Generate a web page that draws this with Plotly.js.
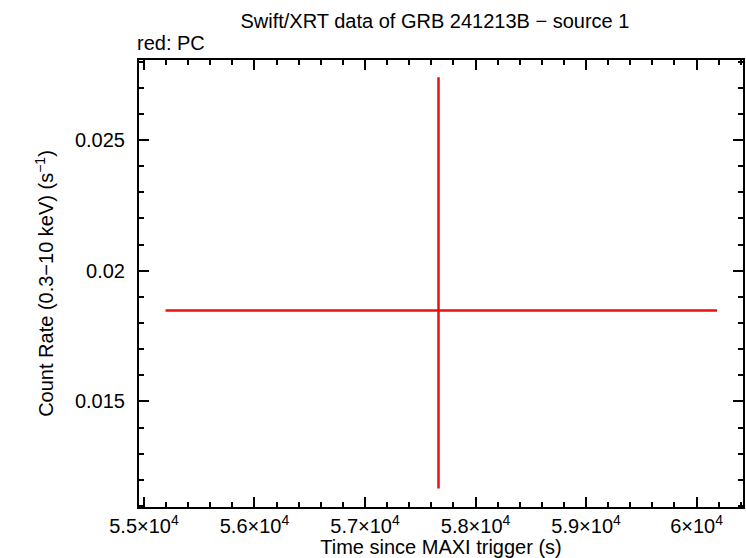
<!DOCTYPE html>
<html><head><meta charset="utf-8">
<script src="https://cdn.plot.ly/plotly-3.0.1.min.js"></script>
<style>body{margin:0;padding:0;background:#fff}#c{width:746px;height:558px}</style>
</head><body><div id="c"></div>
<script>
const timeX = [57665];
const timeErrMinus = [2470];
const timeErrPlus = [2520];
const rateY = [0.01848];
const rateErrPlus = [0.00892];
const rateErrMinus = [0.00681];
const xTickVals = [55000, 56000, 57000, 58000, 59000, 60000];
const xTickText = ['5.5×10<sup>4</sup>', '5.6×10<sup>4</sup>', '5.7×10<sup>4</sup>', '5.8×10<sup>4</sup>', '5.9×10<sup>4</sup>', '6×10<sup>4</sup>'];
const yTickVals = [0.015, 0.02, 0.025];
const yTickText = ['0.015', '0.02', '0.025'];

const fam = 'Liberation Sans, Arial, sans-serif';
const font = {family: fam, color: '#000', size: 20};

const trace = {
  x: timeX, y: rateY, type: 'scatter', mode: 'markers',
  marker: {size: 0.1, color: 'rgba(0,0,0,0)'},
  error_x: {type: 'data', symmetric: false, array: timeErrPlus, arrayminus: timeErrMinus, color: '#e8100e', thickness: 2.5, width: 0},
  error_y: {type: 'data', symmetric: false, array: rateErrPlus, arrayminus: rateErrMinus, color: '#e8100e', thickness: 2.5, width: 0},
  hoverinfo: 'skip'
};

const layout = {
  width: 746, height: 558,
  margin: {l: 139, r: 3, t: 60, b: 51, pad: 0},
  paper_bgcolor: '#fff', plot_bgcolor: '#fff',
  showlegend: false,
  font: font,
  title: {text: 'Swift/XRT data of GRB 241213B − source 1', font: {family: fam, size: 20, color: '#000'}, x: 0.583, xanchor: 'center', y: 0.963, yanchor: 'middle'},
  annotations: [{text: 'red: PC', xref: 'paper', yref: 'paper', x: 0, y: 1, xanchor: 'left', yanchor: 'bottom', yshift: 4, xshift: -4, showarrow: false, font: {family: fam, size: 20, color: '#000'}}],
  xaxis: {
    range: [54955, 60420], tickmode: 'array', tickvals: xTickVals, ticktext: xTickText,
    ticks: 'inside', ticklen: 10, tickwidth: 2, tickcolor: '#000',
    showline: true, linewidth: 2, linecolor: '#000', mirror: 'allticks',
    showgrid: false, zeroline: false,
    tickfont: {family: fam, size: 20, color: '#000'},
    minor: {dtick: 200, tick0: 55000, ticks: 'inside', ticklen: 5, tickwidth: 2, tickcolor: '#000', showgrid: false},
    title: {text: 'Time since MAXI trigger (s)', font: {family: fam, size: 20, color: '#000'}, standoff: 1}
  },
  yaxis: {
    range: [0.01096, 0.02806], tickmode: 'array', tickvals: yTickVals, ticktext: yTickText,
    ticks: 'inside', ticklen: 10, tickwidth: 2, tickcolor: '#000',
    showline: true, linewidth: 2, linecolor: '#000', mirror: 'allticks',
    showgrid: false, zeroline: false,
    tickfont: {family: fam, size: 20, color: '#000'},
    ticklabelstandoff: 8,
    minor: {dtick: 0.001, tick0: 0.01, ticks: 'inside', ticklen: 5, tickwidth: 2, tickcolor: '#000', showgrid: false},
    title: {text: 'Count Rate (0.3−10 keV) (s<sup>−1</sup>)', font: {family: fam, size: 20, color: '#000'}, standoff: 16}
  }
};

Plotly.newPlot('c', [trace], layout, {displayModeBar: false, staticPlot: true});
</script>
</body></html>
